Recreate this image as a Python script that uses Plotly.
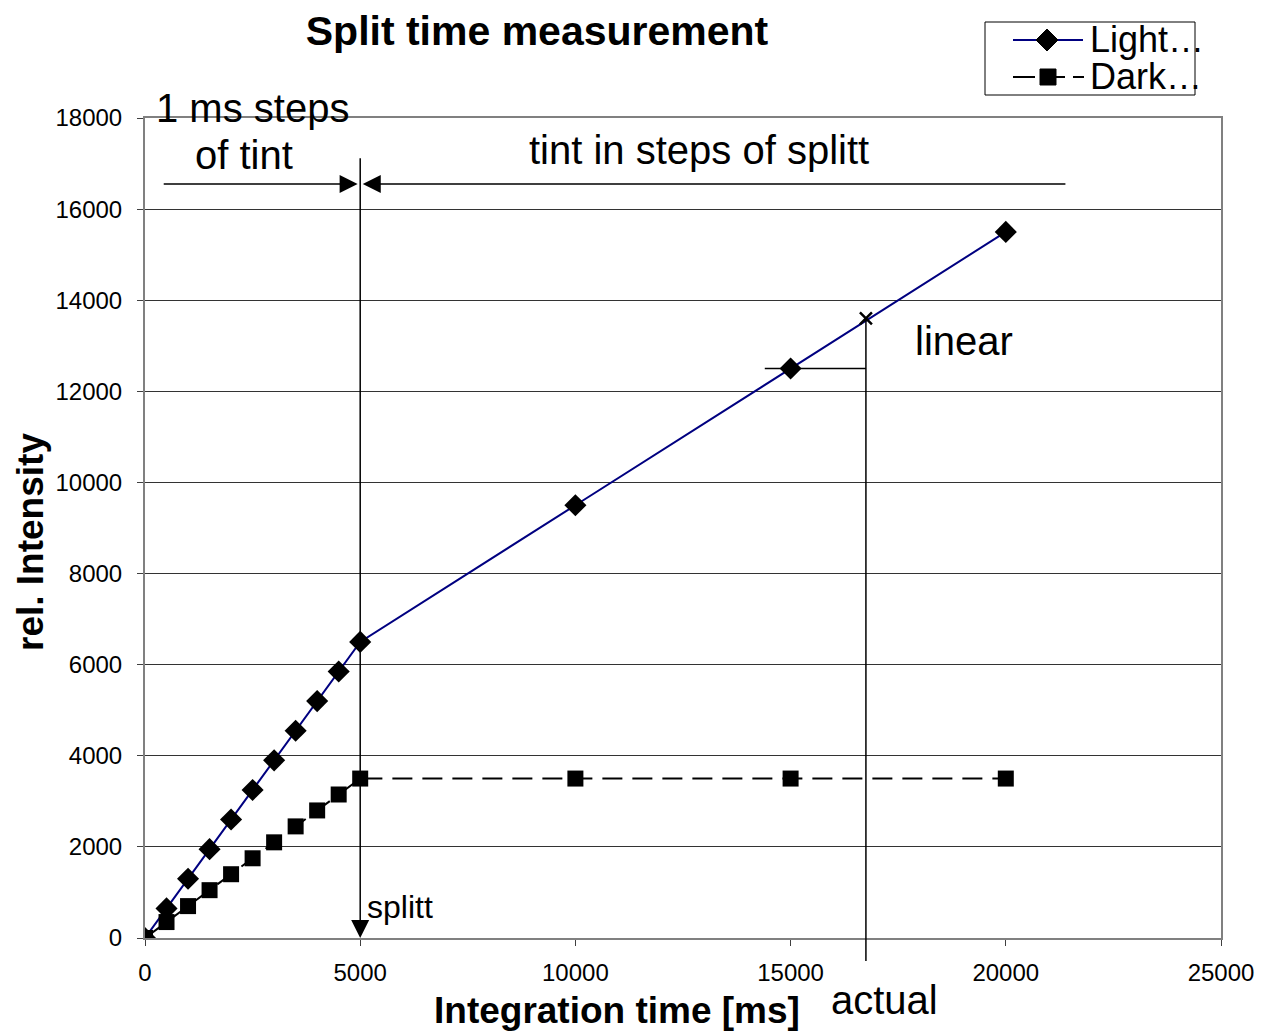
import plotly.graph_objects as go

# ---- data ----
light_x = [0, 500, 1000, 1500, 2000, 2500, 3000, 3500, 4000, 4500, 5000, 10000, 15000, 20000]
light_y = [0, 650, 1300, 1950, 2600, 3250, 3900, 4550, 5200, 5850, 6500, 9500, 12500, 15500]
dark_x = [0, 500, 1000, 1500, 2000, 2500, 3000, 3500, 4000, 4500, 5000, 10000, 15000, 20000]
dark_y = [0, 350, 700, 1050, 1400, 1750, 2100, 2450, 2800, 3150, 3500, 3500, 3500, 3500]

x_ticks = [0, 5000, 10000, 15000, 20000, 25000]
y_ticks = [0, 2000, 4000, 6000, 8000, 10000, 12000, 14000, 16000, 18000]

series_names = ["Light…", "Dark…"]

# annotation geometry (in data units)
SPLIT_X = 5000
SPLIT_TOP = 17150
ARROW_Y = 16550
LEFT_TAIL = 400
RIGHT_TAIL = 21420
ACTUAL_X = 16750
ACTUAL_Y = 13600
LIN_Y = 12500
LIN_X0 = 14400

X_MAX = 25000
Y_MAX = 18000

FONT = "Liberation Sans, Arial, sans-serif"
NAVY = "#000080"

# page offset (browser body margin) and plot-area placement helpers
OFF = 8
PLOT_L, PLOT_R, PLOT_T, PLOT_B = 145, 1221, 118, 938
W, H = 1271 - OFF, 1031 - OFF


def PX(px):
    return (px - PLOT_L) / (PLOT_R - PLOT_L)


def PY(py):
    return (PLOT_B - py) / (PLOT_B - PLOT_T)


fig = go.Figure()
fig.add_trace(go.Scatter(
    x=light_x, y=light_y, name=series_names[0], mode="lines+markers",
    line=dict(color=NAVY, width=2),
    marker=dict(symbol="diamond", size=17, color="black"),
    showlegend=False,
))
fig.add_trace(go.Scatter(
    x=dark_x, y=dark_y, name=series_names[1], mode="lines+markers",
    line=dict(color="black", width=2, dash="20px,10px"),
    marker=dict(symbol="square", size=16, color="black"),
    showlegend=False,
))
fig.add_trace(go.Scatter(
    x=[ACTUAL_X], y=[ACTUAL_Y], mode="markers", showlegend=False,
    marker=dict(symbol="x-thin", size=12, line=dict(color="black", width=2.5)),
    hoverinfo="skip",
))

annotations = []
arrow_common = dict(xref="x", yref="y", axref="x", ayref="y", showarrow=True,
                    arrowhead=2, arrowsize=2.4, arrowwidth=1.5, arrowcolor="black", text="")
annotations.append(dict(x=SPLIT_X, y=0, ax=SPLIT_X, ay=SPLIT_TOP, **arrow_common))
annotations.append(dict(x=SPLIT_X - 60, y=ARROW_Y, ax=LEFT_TAIL, ay=ARROW_Y, **arrow_common))
annotations.append(dict(x=SPLIT_X + 60, y=ARROW_Y, ax=RIGHT_TAIL, ay=ARROW_Y, **arrow_common))


def txt(text, x, y, size, xref="x", yref="y", xanchor="center", bold=False, angle=0):
    return dict(text=f"<b>{text}</b>" if bold else text, x=x, y=y, xref=xref, yref=yref,
                showarrow=False, xanchor=xanchor, yanchor="middle", textangle=angle,
                font=dict(family=FONT, size=size, color="black"))


annotations.append(txt("1 ms steps", PX(252), PY(108), 40, xref="paper", yref="paper"))
annotations.append(txt("of tint", 2300, 17180, 40))
annotations.append(txt("tint in steps of splitt", 12870, 17300, 40))
annotations.append(txt("linear", 19030, 13100, 40))
annotations.append(txt("splitt", 5100, 680, 32, xanchor="left"))
annotations.append(txt("actual", PX(884), PY(1000), 40, xref="paper", yref="paper"))
annotations.append(txt("Integration time [ms]", PX(617), PY(1010), 37, xref="paper", yref="paper", bold=True))
annotations.append(txt("rel. Intensity", PX(30), PY(542), 37, xref="paper", yref="paper", bold=True, angle=-90))

# legend (drawn manually to match compact layout)
annotations.append(txt(series_names[0], PX(1088), PY(40), 36, xref="paper", yref="paper", xanchor="left"))
annotations.append(txt(series_names[1], PX(1088), PY(77), 36, xref="paper", yref="paper", xanchor="left"))


def diamond_path(cx, cy, r):
    pts = [(cx - r, cy), (cx, cy - r), (cx + r, cy), (cx, cy + r)]
    return "M " + " L ".join(f"{PX(x)},{PY(y)}" for x, y in pts) + " Z"


shapes = [
    dict(type="line", xref="x", yref="paper", x0=ACTUAL_X, x1=ACTUAL_X,
         y0=PY(961), y1=ACTUAL_Y / Y_MAX, line=dict(color="black", width=1.5)),
    dict(type="line", xref="x", yref="y", x0=LIN_X0, x1=ACTUAL_X,
         y0=LIN_Y, y1=LIN_Y, line=dict(color="black", width=1.5)),
    # legend box
    dict(type="rect", xref="paper", yref="paper", x0=PX(985), x1=PX(1195), y0=PY(95), y1=PY(22),
         line=dict(color="black", width=1), fillcolor="white", layer="below"),
    dict(type="line", xref="paper", yref="paper", x0=PX(1013), x1=PX(1083), y0=PY(40), y1=PY(40),
         line=dict(color=NAVY, width=2)),
    dict(type="path", xref="paper", yref="paper", path=diamond_path(1047, 40, 11),
         fillcolor="black", line=dict(color="black", width=1)),
    dict(type="line", xref="paper", yref="paper", x0=PX(1013), x1=PX(1084), y0=PY(77), y1=PY(77),
         line=dict(color="black", width=2, dash="22px,8px")),
    dict(type="rect", xref="paper", yref="paper", x0=PX(1040), x1=PX(1056), y0=PY(85), y1=PY(69),
         fillcolor="black", line=dict(color="black", width=1)),
]

fig.update_layout(
    width=W, height=H,
    margin=dict(l=PLOT_L - OFF, r=W - (PLOT_R - OFF), t=PLOT_T - OFF, b=H - (PLOT_B - OFF)),
    paper_bgcolor="white", plot_bgcolor="white",
    font=dict(family=FONT, color="black"),
    title=dict(text="<b>Split time measurement</b>", x=(537 - OFF) / W, xanchor="center",
               y=1 - (31 - OFF) / H, yanchor="middle", font=dict(family=FONT, size=41, color="black")),
    annotations=annotations,
    shapes=shapes,
    showlegend=False,
)
fig.update_xaxes(range=[0, X_MAX], tickvals=x_ticks, ticktext=[str(v) for v in x_ticks],
                 showgrid=False, zeroline=False, showline=True, mirror=True,
                 linecolor="#808080", linewidth=2, ticks="outside", ticklen=6,
                 tickcolor="#404040", tickfont=dict(size=24, family=FONT, color="black"),
                 ticklabelstandoff=6)
fig.update_yaxes(range=[0, Y_MAX], tickvals=y_ticks, ticktext=[str(v) for v in y_ticks],
                 showgrid=True, gridcolor="#333333", gridwidth=1, zeroline=False,
                 showline=True, mirror=True, linecolor="#808080", linewidth=2,
                 ticks="outside", ticklen=6, tickcolor="#404040",
                 tickfont=dict(size=24, family=FONT, color="black"), ticklabelstandoff=10)

fig.write_html("out.html")
